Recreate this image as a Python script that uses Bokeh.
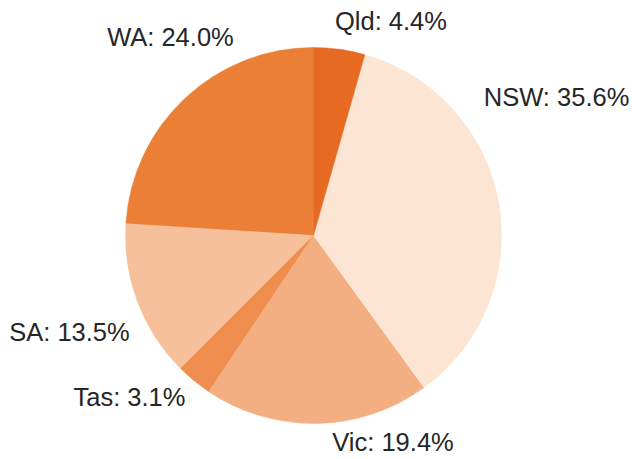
import math
from bokeh.plotting import figure
from bokeh.models import ColumnDataSource, Range1d
from bokeh.core.properties import value
from bokeh.embed import file_html
from bokeh.resources import INLINE

# Data (counter-clockwise from 12 o'clock)
states = ["WA", "SA", "Tas", "Vic", "NSW", "Qld"]
shares = [24.0, 13.5, 3.1, 19.4, 35.6, 4.4]
colors = ["#eb7f36", "#f6c09b", "#ef8e4f", "#f3ae81", "#fde5d3", "#e66a22"]

# Label centres (in pie-radius units, relative to pie centre)
label_x = [-0.761, -1.298, -0.979, 0.423, 1.293, 0.412]
label_y = [1.058, -0.514, -0.857, -1.099, 0.738, 1.140]

W, H = 632, 459
cx_px, cy_px, r_px = 313, 235, 188

total = sum(shares)
starts, ends = [], []
a = math.pi / 2
for s in shares:
    starts.append(a)
    a += 2 * math.pi * s / total
    ends.append(a)

labels = [f"{st}: {sh:.1f}%" for st, sh in zip(states, shares)]

src = ColumnDataSource(dict(start=starts, end=ends, color=colors,
                            lx=label_x, ly=label_y, label=labels,
                            x=[0] * len(states), y=[0] * len(states)))

p = figure(width=W, height=H, output_backend="svg", toolbar_location=None,
           x_range=Range1d(-cx_px / r_px, (W - cx_px) / r_px),
           y_range=Range1d(-(H - cy_px) / r_px, cy_px / r_px),
           min_border=0)
p.axis.visible = False
p.grid.visible = False
p.outline_line_color = None
p.background_fill_color = "white"
p.border_fill_color = "white"

p.wedge(x="x", y="y", radius=1, start_angle="start", end_angle="end",
        direction="anticlock", fill_color="color", line_color="color",
        line_width=0.5, source=src)

p.text(x="lx", y="ly", text="label", source=src,
       text_font=value("Liberation Sans"), text_font_size="25.5px",
       text_color="#262626", text_align="center", text_baseline="middle")

open("out.html", "w").write(file_html(p, INLINE))
